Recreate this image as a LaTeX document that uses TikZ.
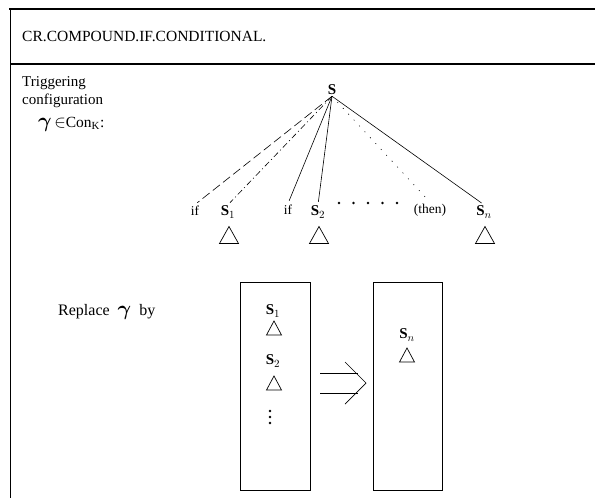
\documentclass[tikz,border=0pt]{standalone}
\usepackage{amsmath}
\usepackage{fontspec}
\setmainfont{Liberation Serif}
\newcommand{\biggam}{{\fontsize{20}{20}\selectfont$\boldsymbol{\gamma}$}}
\newcommand{\bigin}{{\fontsize{19}{19}\selectfont$\in$}}
\begin{document}
\begin{tikzpicture}[x=1pt,y=-1pt,
  frame/.style={line width=1.1pt},
  lbl/.style={font=\fontsize{13.5}{15}\selectfont, inner sep=1.5pt},
  slbl/.style={font=\fontsize{15}{17}\selectfont\bfseries, inner sep=1pt},
  big/.style={font=\fontsize{15.5}{18}\selectfont, inner sep=0pt, anchor=west},
  edge/.style={line width=0.6pt, shorten >=3pt},
  tri/.pic={\draw[line width=0.7pt] (-9.5,8.5) -- (0,-8.5) -- (9.5,8.5) -- cycle;},
  stri/.pic={\draw[line width=0.7pt] (-7.5,7) -- (0,-7) -- (7.5,7) -- cycle;},
  box/.style={draw, line width=0.9pt}]
\useasboundingbox (0,0) rectangle (595,498);
% frame
\draw[frame] (9,9) -- (595,9);
\draw[frame] (10,64) -- (595,64);
\draw[line width=0.9pt] (10,9) -- (10,498);
\node[big] (title) at (22,36) {CR.COMPOUND.IF.CONDITIONAL.};
% triggering text
\node[big, anchor=north west, align=left, font=\fontsize{15}{18}\selectfont] (trig) at (22,76) {Triggering\\configuration};
\node[big] (gam) at (38,124) {\biggam\,\bigin Con$_{\mathrm{K}}$:};
% tree
\node[slbl] (S) at (332,90) {S};
\node[lbl] (if1) at (195,211) {if};
\node[slbl] (S1) at (228,212) {S$_1$};
\node[lbl] (if2) at (288,210) {if};
\node[slbl] (S2) at (318,212) {S$_2$};
\node[lbl] (then) at (430,210) {(then)};
\node[slbl] (Sn) at (484,212) {S$_n$};
\draw[edge, dash pattern=on 9pt off 4pt] (S.south) -- (if1.north);
\draw[edge, dash pattern=on 6pt off 3pt on 1pt off 3pt] (S.south) -- (S1.north);
\draw[edge] (S.south) -- (if2.north);
\draw[edge] (S.south) -- (S2.north);
\draw[edge, dash pattern=on 1pt off 7pt] (S.south) -- (then.north);
\draw[edge] (S.south) -- (Sn.north);
\foreach \x in {339,353.5,368,382.5,397} \fill (\x,203) circle (1.4pt);
\pic at (229,235) {tri};
\pic at (319,235) {tri};
\pic at (485,235) {tri};
% replace
\node[big, font=\fontsize{16}{18}\selectfont] (rep) at (58,312) {Replace \ \biggam\ \ by};
\node[box, minimum width=70pt, minimum height=208pt, inner sep=0pt] (L) at (275,386) {};
\node[box, minimum width=69pt, minimum height=208pt, inner sep=0pt] (R) at (407.5,386) {};
\node[slbl] (b1) at (273,311) {S$_1$};
\pic at (274,328) {stri};
\node[slbl] (b2) at (273,361) {S$_2$};
\pic at (274,383) {stri};
\foreach \y in {411,417,423} \fill (270,\y) circle (1.3pt);
\node[slbl] (bn) at (407,335) {S$_n$};
\pic at (407,355) {stri};
% double arrow
\coordinate (a1) at (320,373);
\coordinate (a2) at (320,393);
\coordinate (tip) at (366,383);
\draw[line width=0.7pt] (a1) -- (358,373);
\draw[line width=0.7pt] (a2) -- (358,393);
\draw[line width=0.7pt] (345,362) -- (tip) -- (345,404);
\end{tikzpicture}
\end{document}
